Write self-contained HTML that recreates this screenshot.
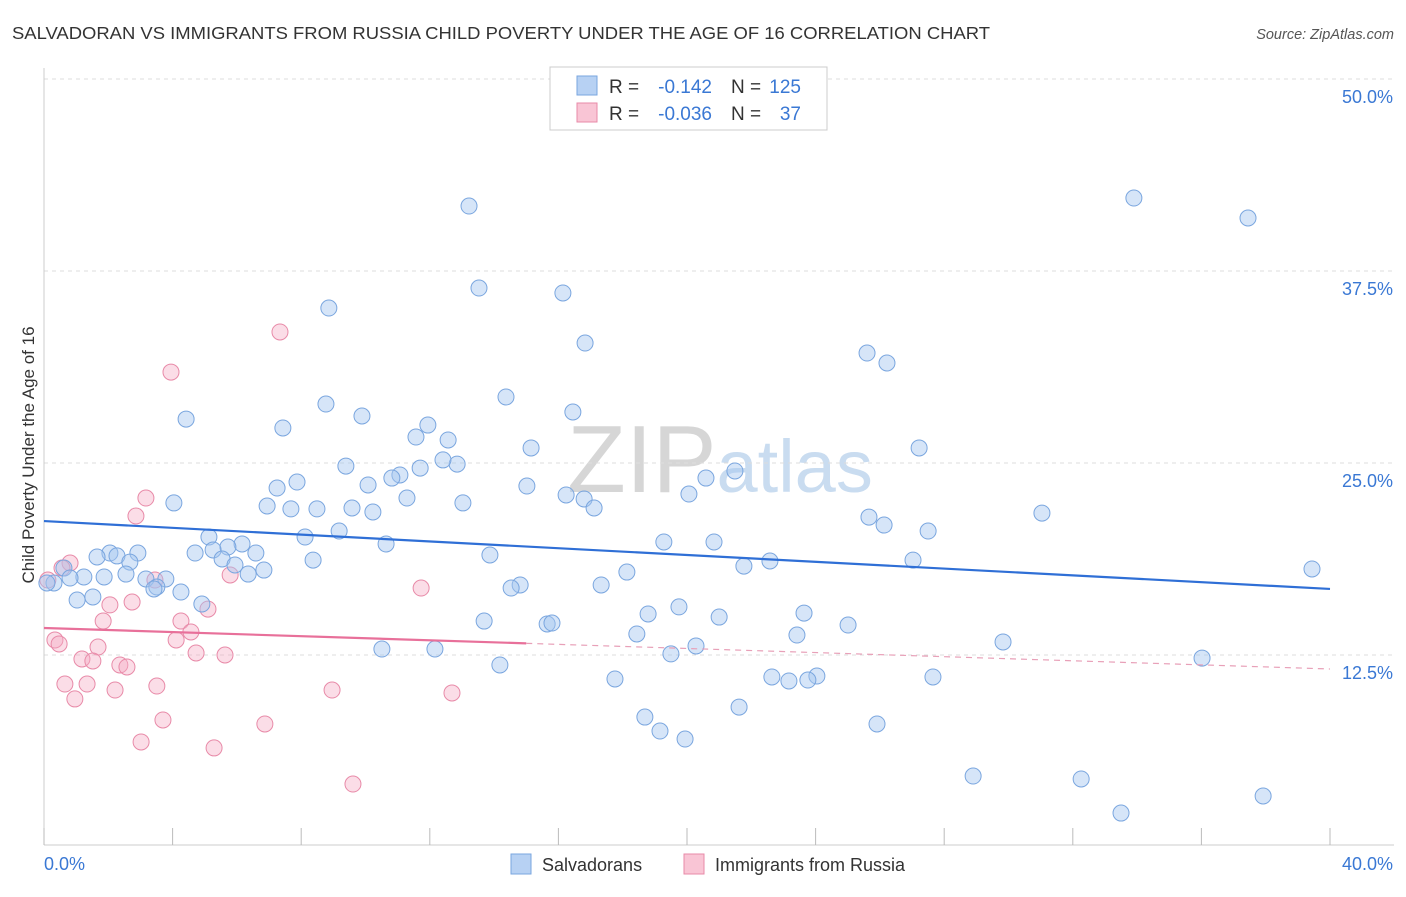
<!DOCTYPE html>
<html><head><meta charset="utf-8"><style>
body{margin:0;background:#fff;width:1406px;height:892px;overflow:hidden;font-family:"Liberation Sans",sans-serif}
svg text{font-family:"Liberation Sans",sans-serif}
</style></head><body>
<svg id="chart" width="1406" height="892">
<text x="12" y="39" font-size="17.5" fill="#333" textLength="978" lengthAdjust="spacingAndGlyphs">SALVADORAN VS IMMIGRANTS FROM RUSSIA CHILD POVERTY UNDER THE AGE OF 16 CORRELATION CHART</text>
<text x="1394" y="39" font-size="14.5" fill="#555" font-style="italic" text-anchor="end">Source: ZipAtlas.com</text>
<text x="720" y="492" font-size="96" fill="#dde3ea" text-anchor="middle" font-family="Liberation Serif"><tspan fill="#d6d6d6">ZIP</tspan><tspan fill="#c9dcf0" font-family="Liberation Sans" font-size="74">atlas</tspan></text>
<text transform="translate(34,455) rotate(-90)" font-size="17" fill="#333" text-anchor="middle">Child Poverty Under the Age of 16</text>
<g id="grid"></g><g id="marks"></g>
<g>
<rect x="550" y="67" width="277" height="63" fill="#fff" stroke="#ccc"/>
<rect x="577" y="76" width="20" height="19" fill="#b7d1f3" stroke="#7aa6df"/>
<rect x="577" y="103" width="20" height="19" fill="#f9c5d5" stroke="#e88aa8"/>
<text x="609" y="93" font-size="19" fill="#333">R =</text>
<text x="712" y="93" font-size="19" fill="#3a78d4" text-anchor="end">-0.142</text>
<text x="731" y="93" font-size="19" fill="#333">N =</text>
<text x="801" y="93" font-size="19" fill="#3a78d4" text-anchor="end">125</text>
<text x="609" y="120" font-size="19" fill="#333">R =</text>
<text x="712" y="120" font-size="19" fill="#3a78d4" text-anchor="end">-0.036</text>
<text x="731" y="120" font-size="19" fill="#333">N =</text>
<text x="801" y="120" font-size="19" fill="#3a78d4" text-anchor="end">37</text>
</g>
<g>
<rect x="511" y="854" width="20" height="20" fill="#b7d1f3" stroke="#7aa6df"/>
<text x="542" y="871" font-size="18" fill="#333">Salvadorans</text>
<rect x="684" y="854" width="20" height="20" fill="#f9c5d5" stroke="#e88aa8"/>
<text x="715" y="871" font-size="18" fill="#333">Immigrants from Russia</text>
</g>
</svg>
<script>
const yTicks=[12.5,25,37.5,50];
const yTickLabels=["12.5%","25.0%","37.5%","50.0%"];
const xTickVals=[0,4,8,12,16,20,24,28,32,36,40];
const blueX=[13.22,33.90,37.45,13.53,16.14,8.86,16.83,25.60,26.22,4.42,8.77,9.89,14.37,16.45,7.43,11.94,11.57,12.57,15.15,27.22,9.39,12.85,12.41,11.07,10.82,11.70,21.49,20.59,7.87,7.25,10.08,15.02,16.24,16.80,20.06,11.29,13.03,4.04,6.94,7.68,8.49,9.58,10.23,17.11,31.04,25.66,26.13,27.50,9.18,8.12,5.13,19.28,20.84,10.64,6.16,5.72,5.26,4.70,2.92,2.05,1.65,2.27,6.59,13.87,5.54,8.37,22.58,27.03,2.67,5.94,21.77,6.84,6.35,18.13,39.44,0.62,1.24,1.87,2.55,0.81,3.79,3.17,3.51,3.42,4.26,14.81,14.53,17.33,1.52,1.03,4.91,19.75,18.79,23.64,21.00,13.69,15.65,15.80,25.01,18.44,23.42,29.83,20.28,10.51,12.16,19.50,36.02,14.18,17.76,22.64,24.04,23.76,23.17,27.65,21.62,18.69,25.91,19.16,19.94,28.90,32.26,33.50,37.92,0.31,0.09];
const blueY=[41.73,42.25,40.95,36.39,36.07,35.09,32.81,32.16,31.51,27.86,28.84,28.06,29.30,28.32,27.28,27.47,26.69,26.50,25.98,25.98,24.80,24.93,25.20,24.22,24.02,24.67,24.48,24.02,23.76,23.37,23.57,23.50,22.92,22.66,22.98,22.72,22.40,22.40,22.20,22.01,22.01,22.07,21.81,22.07,21.74,21.48,20.96,20.57,20.57,20.18,20.18,19.86,19.86,19.73,19.73,19.53,19.34,19.14,19.14,19.14,18.88,18.95,19.14,19.01,18.75,18.68,18.62,18.68,18.55,18.36,18.29,18.03,17.77,17.90,18.10,18.16,17.58,17.58,17.77,17.51,17.45,17.45,16.93,16.80,16.60,17.06,16.86,17.06,16.28,16.08,15.82,15.63,15.17,15.23,14.97,14.71,14.52,14.58,14.45,13.87,13.80,13.35,13.09,12.89,12.89,12.57,12.30,11.85,10.94,11.07,11.13,10.87,10.81,11.07,9.11,8.46,8.01,7.55,7.03,4.62,4.43,2.21,3.32,17.19,17.19];
const pinkX=[7.34,3.95,3.17,2.86,0.81,0.56,3.45,5.79,11.73,2.05,2.74,5.10,4.26,1.84,4.57,4.11,1.68,0.34,0.47,1.18,1.52,2.36,2.58,4.73,5.63,0.65,1.34,3.51,2.21,8.96,12.69,0.96,3.70,6.87,3.02,5.29,9.61,0.12];
const pinkY=[33.53,30.92,22.72,21.55,18.49,18.16,17.38,17.71,16.86,15.76,15.95,15.49,14.71,14.71,14.00,13.48,13.02,13.48,13.22,12.24,12.11,11.85,11.72,12.63,12.50,10.61,10.61,10.48,10.22,10.22,10.03,9.64,8.27,8.01,6.84,6.45,4.10,17.38];
const blueTrend=[21.22,16.80];
const pinkTrend=[14.26,11.59];
const pinkSolidEnd=15;

const X=v=>44+v*32.15, Y=v=>847-v*15.36;
const NS="http://www.w3.org/2000/svg";
const grid=document.getElementById('grid'), marks=document.getElementById('marks');
function mk(tag,attrs,parent){const e=document.createElementNS(NS,tag);for(const k in attrs)e.setAttribute(k,attrs[k]);parent.appendChild(e);return e;}
yTicks.forEach((t,i)=>{
 const l=mk('line',{x1:44,x2:1394,y1:Y(t),y2:Y(t),stroke:'#ddd','stroke-dasharray':'4,4'},grid);
 
 
 const tx=mk('text',{x:1393,y:Y(t)+24,'font-size':18,fill:'#3a78d4','text-anchor':'end'},grid);
 tx.textContent=yTickLabels[i];
 
 
});
const ax=mk('line',{x1:44,x2:1394,y1:845,y2:845,stroke:'#ccc'},grid);


const ay=mk('line',{x1:44,x2:44,y1:68,y2:845,stroke:'#ccc'},grid);


xTickVals.forEach(t=>{
 const l=mk('line',{x1:X(t),x2:X(t),y1:828,y2:845,stroke:'#bbb'},grid);
 
 
});
const x0=mk('text',{x:44,y:870,'font-size':18,fill:'#3a78d4'},grid);x0.textContent='0.0%';


const x1=mk('text',{x:1393,y:870,'font-size':18,fill:'#3a78d4','text-anchor':'end'},grid);x1.textContent='40.0%';



pinkX.forEach((v,i)=>{
 const c=mk('circle',{cx:X(v),cy:Y(pinkY[i]),r:8,fill:'rgba(245,170,196,0.4)',stroke:'#e88aa8','stroke-width':1},marks);
 
 
});
blueX.forEach((v,i)=>{
 const c=mk('circle',{cx:X(v),cy:Y(blueY[i]),r:8,fill:'rgba(165,198,240,0.45)',stroke:'#7aa6df','stroke-width':1},marks);
 
 
});
const bl=mk('line',{x1:X(0),y1:Y(blueTrend[0]),x2:X(40),y2:Y(blueTrend[1]),stroke:'#2f6fd6','stroke-width':2.2},marks);


const pAt=x=>pinkTrend[0]+(pinkTrend[1]-pinkTrend[0])*x/40;
const ps=mk('line',{x1:X(0),y1:Y(pAt(0)),x2:X(pinkSolidEnd),y2:Y(pAt(pinkSolidEnd)),stroke:'#e8709a','stroke-width':2.2},marks);


const pd=mk('line',{x1:X(pinkSolidEnd),y1:Y(pAt(pinkSolidEnd)),x2:X(40),y2:Y(pAt(40)),stroke:'#e8a0b8','stroke-width':1.2,'stroke-dasharray':'6,5'},marks);


</script>
</body></html>
